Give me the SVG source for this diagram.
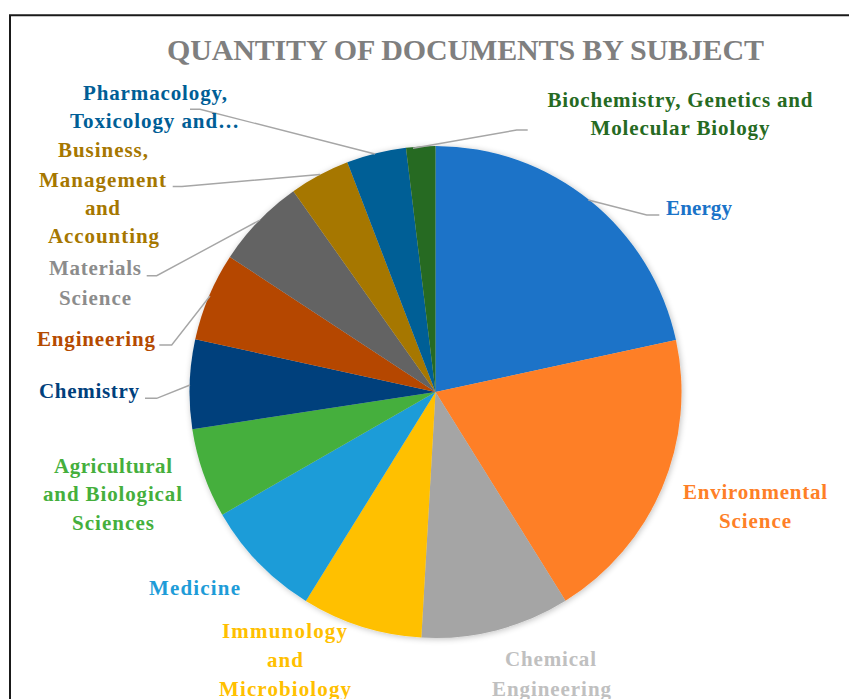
<svg xmlns="http://www.w3.org/2000/svg" width="849" height="699" viewBox="0 0 849 699">
<defs>
<style>
text{font-family:"Liberation Serif","DejaVu Serif",serif;font-weight:bold;font-size:21px;text-anchor:middle}
.title{font-size:30px;fill:#7f7f7f}
.lead{fill:none;stroke:#a6a6a6;stroke-width:1.4}
.slice{stroke:none}
</style>
<filter id="sh" x="-10%" y="-10%" width="120%" height="120%">
<feGaussianBlur in="SourceAlpha" stdDeviation="3"/>
<feOffset dx="1" dy="1"/>
<feComponentTransfer><feFuncA type="linear" slope="0.25"/></feComponentTransfer>
<feMerge><feMergeNode/><feMergeNode in="SourceGraphic"/></feMerge>
</filter>
</defs>
<rect width="849" height="699" fill="#ffffff"/>
<path d="M10 699 V15.2 H849" fill="none" stroke="#1a1a1a" stroke-width="2"/>
<text class="title" x="465.5" y="60" textLength="597" lengthAdjust="spacing">QUANTITY OF DOCUMENTS BY SUBJECT</text>

<g id="pie" filter="url(#sh)">
<g id="slice-energy"><path class="slice" fill="#1a73c8" d="M435.5 392 L435.5 146 A246 246 0 0 1 675.95 340.01 Z"/></g>
<g id="slice-environmental"><path class="slice" fill="#fe7f27" d="M435.5 392 L675.95 340.01 A246 246 0 0 1 565.5 600.85 Z"/></g>
<g id="slice-chemical-eng"><path class="slice" fill="#a5a5a5" d="M435.5 392 L565.5 600.85 A246 246 0 0 1 421.34 637.59 Z"/></g>
<g id="slice-immunology"><path class="slice" fill="#ffc000" d="M435.5 392 L421.34 637.59 A246 246 0 0 1 305.87 601.07 Z"/></g>
<g id="slice-medicine"><path class="slice" fill="#1e9cd8" d="M435.5 392 L305.87 601.07 A246 246 0 0 1 222.24 514.63 Z"/></g>
<g id="slice-agricultural"><path class="slice" fill="#45af3c" d="M435.5 392 L222.24 514.63 A246 246 0 0 1 192.33 429.21 Z"/></g>
<g id="slice-chemistry"><path class="slice" fill="#00407c" d="M435.5 392 L192.33 429.21 A246 246 0 0 1 195.24 339.17 Z"/></g>
<g id="slice-engineering"><path class="slice" fill="#b54700" d="M435.5 392 L195.24 339.17 A246 246 0 0 1 229.89 256.94 Z"/></g>
<g id="slice-materials"><path class="slice" fill="#636363" d="M435.5 392 L229.89 256.94 A246 246 0 0 1 293.35 191.23 Z"/></g>
<g id="slice-business"><path class="slice" fill="#a67700" d="M435.5 392 L293.35 191.23 A246 246 0 0 1 347.34 162.34 Z"/></g>
<g id="slice-pharmacology"><path class="slice" fill="#005e96" d="M435.5 392 L347.34 162.34 A246 246 0 0 1 405.95 147.78 Z"/></g>
<g id="slice-biochemistry"><path class="slice" fill="#266a22" d="M435.5 392 L405.95 147.78 A246 246 0 0 1 435.5 146 Z"/></g>
</g>

<g id="connectors">
<path class="lead" d="M190 109.3 H200 L375 154"/>
<path class="lead" d="M527.7 130 H516.7 L413 148.3"/>
<path class="lead" d="M659.3 215 H646.7 L588.3 200"/>
<path class="lead" d="M172.7 186.5 H182 L320 174.5"/>
<path class="lead" d="M146.7 275.7 H156.7 L260 220"/>
<path class="lead" d="M159.3 345 H171.7 L210 296"/>
<path class="lead" d="M145 398.3 H156.7 L190 385"/>
</g>

<g id="label-pharmacology" fill="#005e96">
<text x="155" y="100" textLength="144" lengthAdjust="spacing">Pharmacology,</text>
<text x="154.5" y="128" textLength="169" lengthAdjust="spacing">Toxicology and…</text>
</g>
<g id="label-business" fill="#a67700">
<text x="103" y="157" textLength="90" lengthAdjust="spacing">Business,</text>
<text x="102.5" y="187" textLength="127" lengthAdjust="spacing">Management</text>
<text x="102.5" y="215" textLength="35" lengthAdjust="spacing">and</text>
<text x="103.5" y="243" textLength="111" lengthAdjust="spacing">Accounting</text>
</g>
<g id="label-materials" fill="#8c8c8c">
<text x="95" y="275" textLength="92" lengthAdjust="spacing">Materials</text>
<text x="95" y="305" textLength="72" lengthAdjust="spacing">Science</text>
</g>
<g id="label-engineering" fill="#b54a00">
<text x="96" y="345.5" textLength="118" lengthAdjust="spacing">Engineering</text>
</g>
<g id="label-chemistry" fill="#00407c">
<text x="89" y="398" textLength="100" lengthAdjust="spacing">Chemistry</text>
</g>
<g id="label-agricultural" fill="#45af3c">
<text x="113" y="473" textLength="118" lengthAdjust="spacing">Agricultural</text>
<text x="112.5" y="501" textLength="139" lengthAdjust="spacing">and Biological</text>
<text x="113" y="530" textLength="82" lengthAdjust="spacing">Sciences</text>
</g>
<g id="label-medicine" fill="#1e9cd8">
<text x="194.5" y="595" textLength="91" lengthAdjust="spacing">Medicine</text>
</g>
<g id="label-immunology" fill="#ffc000">
<text x="284.5" y="637.5" textLength="125" lengthAdjust="spacing">Immunology</text>
<text x="285" y="667" textLength="36" lengthAdjust="spacing">and</text>
<text x="285" y="695.5" textLength="132" lengthAdjust="spacing">Microbiology</text>
</g>
<g id="label-chemical-eng" fill="#c0c0c0">
<text x="550.5" y="666" textLength="91" lengthAdjust="spacing">Chemical</text>
<text x="551.5" y="696" textLength="119" lengthAdjust="spacing">Engineering</text>
</g>
<g id="label-environmental" fill="#fe7f27">
<text x="755" y="499" textLength="144" lengthAdjust="spacing">Environmental</text>
<text x="755" y="528" textLength="72" lengthAdjust="spacing">Science</text>
</g>
<g id="label-energy" fill="#1a73c8">
<text x="699" y="215" textLength="66" lengthAdjust="spacing">Energy</text>
</g>
<g id="label-biochemistry" fill="#266a22">
<text x="680" y="107" textLength="265" lengthAdjust="spacing">Biochemistry, Genetics and</text>
<text x="680" y="135" textLength="179" lengthAdjust="spacing">Molecular Biology</text>
</g>
</svg>
